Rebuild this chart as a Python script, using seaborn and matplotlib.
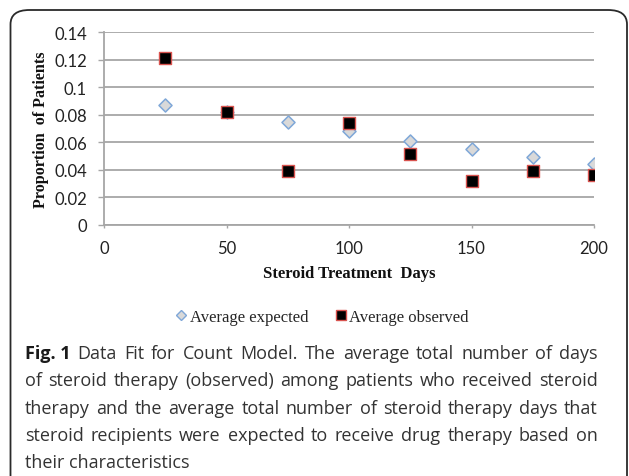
import matplotlib
matplotlib.use("Agg")
import matplotlib.pyplot as plt
import seaborn as sns
import pandas as pd
from matplotlib.patches import FancyBboxPatch
from matplotlib.lines import Line2D

# ---- data ----
days = [25, 50, 75, 100, 125, 150, 175, 200]
expected = [0.087, 0.082, 0.075, 0.068, 0.061, 0.055, 0.0495, 0.0445]
observed = [0.121, 0.082, 0.039, 0.074, 0.0515, 0.032, 0.039, 0.036]
series_names = ["Average expected", "Average observed"]
x_ticks = [0, 50, 100, 150, 200]
y_ticks = [0, 0.02, 0.04, 0.06, 0.08, 0.10, 0.12, 0.14]
y_tick_labels = ["0", "0.02", "0.04", "0.06", "0.08", "0.1", "0.12", "0.14"]
x_label = "Steroid Treatment  Days"
y_label = "Proportion  of Patients"
caption_bold = "Fig. 1"
caption_lines = [
    "Data Fit for Count Model. The average total number of days",
    "of steroid therapy (observed) among patients who received steroid",
    "therapy and the average total number of steroid therapy days that",
    "steroid recipients were expected to receive drug therapy based on",
    "their characteristics",
]

sns.set_theme(style="white")
plt.rcParams["font.family"] = ["Lato", "DejaVu Sans"]

W, H = 629, 477
fig = plt.figure(figsize=(W / 100, H / 100), dpi=100)
fig.patch.set_facecolor("white")

ax = fig.add_axes([104 / W, 1 - 226 / H, (594 - 104) / W, (226 - 33.3) / H])

df_exp = pd.DataFrame({"days": days, "value": expected})
df_obs = pd.DataFrame({"days": days, "value": observed})

sns.scatterplot(data=df_exp, x="days", y="value", ax=ax, marker="D", s=44,
                color="#d9d9d9", edgecolor="#7fa7d8", linewidth=1.1,
                zorder=3, legend=False)
sns.scatterplot(data=df_obs, x="days", y="value", ax=ax, marker="s", s=72,
                color="#000000", edgecolor="#d9534f", linewidth=1.0,
                zorder=4, legend=False)

ax.set_xlim(0, 200)
ax.set_ylim(0, 0.14)
ax.set_xticks(x_ticks)
ax.set_yticks(y_ticks)
ax.set_yticklabels(y_tick_labels)
ax.yaxis.grid(True, color="#a6a6a6", linewidth=1.3)
ax.xaxis.grid(False)
ax.set_axisbelow(True)
for s in ["top", "right"]:
    ax.spines[s].set_visible(False)
for s in ["left", "bottom"]:
    ax.spines[s].set_color("#a6a6a6")
    ax.spines[s].set_linewidth(1.3)
ax.tick_params(axis="y", direction="out", length=4.3, width=1.0, color="#a6a6a6",
               pad=8, labelsize=12, labelcolor="#222222", left=True)
ax.tick_params(axis="x", direction="out", length=2.5, width=1.0, color="#a6a6a6",
               pad=8, labelsize=12, labelcolor="#222222", bottom=True)

ax.set_xlabel(x_label, family=["Liberation Serif"], fontweight="bold", fontsize=12,
              color="#111111")
ax.set_ylabel(y_label, family=["Liberation Serif"], fontweight="bold", fontsize=11.6,
              color="#111111")
ax.xaxis.set_label_coords(0.5, -0.205)
ax.yaxis.set_label_coords(-0.112, 0.5)

# legend
handles = [
    Line2D([], [], linestyle="none", marker="D", markersize=5,
           markerfacecolor="#d9d9d9", markeredgecolor="#7fa7d8", markeredgewidth=1.0),
    Line2D([], [], linestyle="none", marker="s", markersize=7,
           markerfacecolor="#000000", markeredgecolor="#d9534f", markeredgewidth=1.0),
]
fig.legend(handles, series_names, loc="center", bbox_to_anchor=(322 / W, 1 - 318 / H),
           ncol=2, frameon=False, handlelength=0.7, handletextpad=0.15,
           columnspacing=1.6,
           prop={"family": "Liberation Serif", "size": 12})

# border
box = FancyBboxPatch((10.5 / W, -0.2), (627 - 10.5) / W, 1.2 - 11 / H,
                     boxstyle="round,pad=0,rounding_size=0.03",
                     transform=fig.transFigure, facecolor="none",
                     edgecolor="#2a2a2a", linewidth=1.3, clip_on=False)
fig.patches.append(box)

# caption (justified lines 1-4)
cap_font = ["Open Sans", "DejaVu Sans"]
cap_size = 13
cap_color = "#333333"
baselines = [359, 386.3, 413.6, 440.9, 468.2]
left_px, right_px = 25, 598
renderer = fig.canvas.get_renderer()


def width_px(s, weight="normal"):
    t = fig.text(0, 0, s, family=cap_font, fontsize=cap_size, fontweight=weight)
    w = t.get_window_extent(renderer=renderer).width
    t.remove()
    return w


for i, (line, b) in enumerate(zip(caption_lines, baselines)):
    y = 1 - b / H
    items = [(w, "normal") for w in line.split(" ")]
    if i == 0:
        items = [(caption_bold, "bold")] + items
    if i < 4:
        widths = [width_px(w, wt) for w, wt in items]
        gap = (right_px - left_px - sum(widths)) / (len(items) - 1)
        x = left_px
        for (w, wt), wd in zip(items, widths):
            fig.text(x / W, y, w, family=cap_font, fontsize=cap_size, fontweight=wt,
                     color="#1a1a1a" if wt == "bold" else cap_color,
                     va="baseline", ha="left")
            x += wd + gap
    else:
        fig.text(left_px / W, y, line, family=cap_font, fontsize=cap_size,
                 color=cap_color, va="baseline", ha="left")

fig.savefig("out.png", dpi=100, facecolor="white")
